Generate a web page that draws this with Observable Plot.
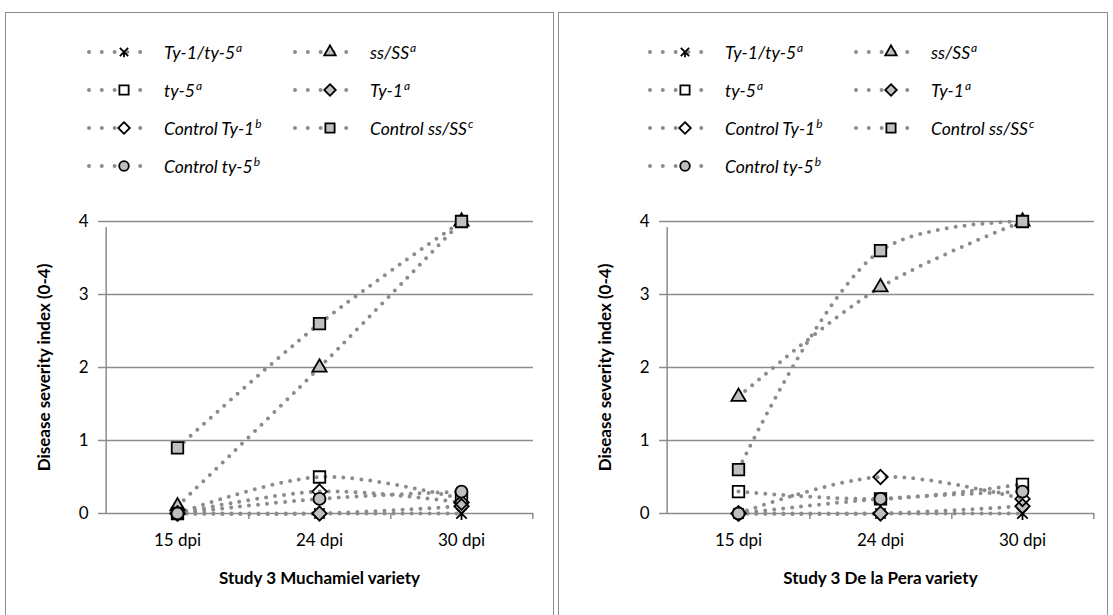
<!DOCTYPE html>
<html><head><meta charset="utf-8">
<script src="https://cdn.jsdelivr.net/npm/d3@7"></script>
<script src="https://cdn.jsdelivr.net/npm/@observablehq/plot@0.6"></script>
<style>
body{margin:0;background:#fff;font-family:Lato,"Open Sans",sans-serif;width:1113px;height:615px;overflow:hidden;position:relative;}
.frame{position:absolute;top:12px;height:620px;border:1.5px solid #8c8c8c;box-sizing:border-box;}
.item{position:absolute;display:flex;align-items:center;height:24px;font-style:italic;font-size:17.5px;color:#000;white-space:nowrap;}
.item svg{margin-right:8px;}
.item sup{font-size:12px;vertical-align:7px;line-height:0;margin-left:1px;}
.chart{position:absolute;top:200px;}
.chart g[aria-label="x-axis label"] text, .chart g[aria-label="y-axis label"] text{font-weight:bold;}
</style></head>
<body>
<div class="frame" style="left:5px;width:549px"></div>
<div class="frame" style="left:558px;width:550px"></div>
<script>
// ---- data ----
const timepoints = ["15 dpi", "24 dpi", "30 dpi"];
const seriesNames = ["Ty-1/ty-5", "ss/SS", "ty-5", "Ty-1", "Control Ty-1", "Control ss/SS", "Control ty-5"];
const seriesSup = ["a", "a", "a", "a", "b", "c", "b"];
const panelTitles = ["Study 3 Muchamiel variety", "Study 3 De la Pera variety"];
const yTicks = [0, 1, 2, 3, 4];
const yLabel = "Disease severity index (0-4)";

// Study 3 Muchamiel variety
const muchamiel_Ty1ty5 = [0, 0, 0];
const muchamiel_ssSS = [0.1, 2.0, 4.0];
const muchamiel_ty5 = [0, 0.5, 0.2];
const muchamiel_Ty1 = [0, 0, 0.1];
const muchamiel_ctrlTy1 = [0, 0.3, 0.15];
const muchamiel_ctrlssSS = [0.9, 2.6, 4.0];
const muchamiel_ctrlty5 = [0, 0.2, 0.3];

// Study 3 De la Pera variety
const pera_Ty1ty5 = [0, 0, 0];
const pera_ssSS = [1.6, 3.1, 4.0];
const pera_ty5 = [0.3, 0.2, 0.4];
const pera_Ty1 = [0, 0, 0.1];
const pera_ctrlTy1 = [0, 0.5, 0.2];
const pera_ctrlssSS = [0.6, 3.6, 4.0];
const pera_ctrlty5 = [0, 0.2, 0.3];

const panels = [
  [muchamiel_Ty1ty5, muchamiel_ssSS, muchamiel_ty5, muchamiel_Ty1, muchamiel_ctrlTy1, muchamiel_ctrlssSS, muchamiel_ctrlty5],
  [pera_Ty1ty5, pera_ssSS, pera_ty5, pera_Ty1, pera_ctrlTy1, pera_ctrlssSS, pera_ctrlty5]
];

// ---- styles ----
const starSymbol = {
  draw(ctx, size) {
    const r = Math.sqrt(size / Math.PI) * 0.8;
    ctx.moveTo(-r, -r); ctx.lineTo(r, r);
    ctx.moveTo(r, -r); ctx.lineTo(-r, r);
    ctx.moveTo(0, 0); ctx.lineTo(0, r * 1.25);
  }
};
const markerSymbol = [starSymbol, "triangle", "square", "diamond2", "diamond2", "square", "circle"];
const markerFill = ["none", "#bfbfbf", "none", "#bfbfbf", "none", "#bfbfbf", "#bfbfbf"];
const markerR = [6.5, 5.3, 6.5, 6.5, 6.5, 6.5, 6];
const lineGrey = "#8c8c8c";

function d3Sym(s) {
  if (typeof s !== "string") return s;
  return {triangle: d3.symbolTriangle, square: d3.symbolSquare, diamond2: d3.symbolDiamond2, circle: d3.symbolCircle}[s];
}

const legendRows = [[0, 0, 0], [1, 1, 0], [2, 0, 1], [3, 1, 1], [4, 0, 2], [5, 1, 2], [6, 0, 3]];
const rowY = [52, 90, 128, 166];
const colX = [86, 292];
const panelOffset = [0, 561];

panels.forEach((vals, p) => {
  // legend
  legendRows.forEach(([s, c, r]) => {
    const div = document.createElement("div");
    div.className = "item";
    div.style.left = (colX[c] + panelOffset[p]) + "px";
    div.style.top = (rowY[r] - 12) + "px";
    const sw = d3.create("svg").attr("width", 70).attr("height", 24);
    sw.append("line").attr("x1", 3).attr("x2", 67).attr("y1", 12).attr("y2", 12)
      .attr("stroke", lineGrey).attr("stroke-width", 4).attr("stroke-linecap", "round")
      .attr("stroke-dasharray", "0 12.8");
    const lr = markerR[s] * 0.8;
    sw.append("path").attr("transform", "translate(38,12)")
      .attr("d", d3.symbol(d3Sym(markerSymbol[s]), Math.PI * lr * lr)())
      .attr("fill", markerFill[s] === "none" ? "#fff" : markerFill[s]).attr("stroke", "#000").attr("stroke-width", 1.8);
    div.appendChild(sw.node());
    const span = document.createElement("span");
    span.innerHTML = seriesNames[s] + "<sup>" + seriesSup[s] + "</sup>";
    div.appendChild(span);
    document.body.appendChild(div);
  });

  // data rows
  const rows = [];
  vals.forEach((arr, s) => arr.forEach((v, i) => rows.push({series: seriesNames[s], s, t: timepoints[i], v})));

  const W = 546, ml = 99, mr = 19;
  const band = (W - ml - mr) / timepoints.length;

  const marks = [
    Plot.ruleY(yTicks, {y: d => d, stroke: "#8c8c8c", strokeWidth: 1.5, insetLeft: -7}),
    Plot.ruleX([timepoints[0]], {x: d => d, y1: 0, y2: 4, dx: -band / 2, insetBottom: -6, stroke: "#8c8c8c", strokeWidth: 1.5}),
    Plot.ruleX(timepoints, {x: d => d, y1: 0, y2: 0, dx: band / 2, insetBottom: -6, stroke: "#8c8c8c", strokeWidth: 1.5}),
    Plot.line(rows, {x: "t", y: "v", z: "series", curve: "catmull-rom", stroke: lineGrey, strokeWidth: 4,
      strokeDasharray: "0 9", strokeLinecap: "round"})
  ];
  seriesNames.forEach((name, s) => {
    marks.push(Plot.dot(rows.filter(d => d.s === s), {x: "t", y: "v", r: markerR[s], symbol: () => markerSymbol[s],
      fill: markerFill[s], stroke: "#000", strokeWidth: 1.8}));
  });

  const chart = Plot.plot({
    width: W, height: 405, marginTop: 21, marginBottom: 92, marginLeft: ml, marginRight: mr,
    style: {fontFamily: "Lato, 'Open Sans', sans-serif", fontSize: "17px", color: "#000", background: "transparent", overflow: "visible"},
    x: {type: "point", domain: timepoints, padding: 0.5, tickSize: 0, tickPadding: 20,
        label: panelTitles[p], labelAnchor: "center", labelOffset: 70, labelArrow: "none"},
    y: {domain: [0, 4], ticks: yTicks, tickSize: 0, tickPadding: 17, tickFormat: d3.format("d"),
        label: yLabel, labelAnchor: "center", labelOffset: 68, labelArrow: "none"},
    symbol: {type: "identity"},
    marks
  });
  chart.classList.add("chart");
  chart.style.left = (6 + panelOffset[p]) + "px";
  document.body.appendChild(chart);
});
</script>
</body></html>
